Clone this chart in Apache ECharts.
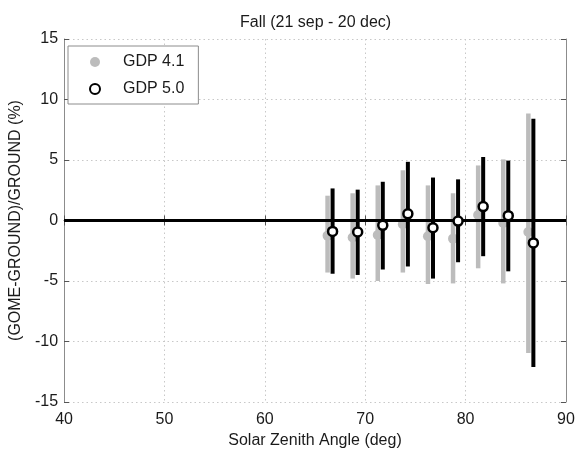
<!DOCTYPE html>
<html>
<head>
<meta charset="utf-8">
<script src="https://cdn.jsdelivr.net/npm/echarts@6/dist/echarts.min.js"></script>
<style>
  html, body { margin: 0; padding: 0; background: #fff; }
  #chart { width: 579px; height: 457px; }
</style>
</head>
<body>
<div id="chart"></div>
<script>
// solar zenith angle bins (deg); the two versions are drawn side by side
const xGdp41 = [66.25, 68.75, 71.25, 73.75, 76.25, 78.75, 81.25, 83.75, 86.25];
const xGdp50 = [66.75, 69.25, 71.75, 74.25, 76.75, 79.25, 81.75, 84.25, 86.75];

// GDP 4.1 (grey)
const mean41 = [-1.25, -1.4, -1.2, -0.3, -1.3, -1.5, 0.45, -0.2, -0.95];
const upper41 = [2.05, 2.25, 2.9, 4.15, 2.9, 2.25, 4.55, 5.05, 8.85];
const lower41 = [-4.3, -4.8, -5.0, -4.3, -5.25, -5.2, -3.95, -5.2, -10.95];

// GDP 5.0 (black)
const mean50 = [-0.9, -0.95, -0.4, 0.55, -0.6, -0.05, 1.15, 0.4, -1.85];
const upper50 = [2.65, 2.55, 3.2, 4.85, 3.55, 3.4, 5.25, 4.95, 8.4];
const lower50 = [-4.4, -4.5, -4.05, -3.8, -4.8, -3.45, -2.95, -4.2, -12.1];

const xTicks = [40, 50, 60, 70, 80, 90];
const yTicks = [-15, -10, -5, 0, 5, 10, 15];

const FONT = '"Liberation Sans", Arial, sans-serif';
const TEXT = '#1a1a1a';
const FRAME = '#8c8c8c';
const GREY = '#bcbcbc';

const chart = echarts.init(document.getElementById('chart'));

function errorBars(xs, lo, hi) {
  return xs.map((x, i) => [x, lo[i], hi[i]]);
}
function points(xs, ys) {
  return xs.map((x, i) => [x, ys[i]]);
}
function barRenderer(color, width) {
  return (params, api) => {
    const x = api.value(0);
    const p1 = api.coord([x, api.value(1)]);
    const p2 = api.coord([x, api.value(2)]);
    return {
      type: 'line',
      shape: { x1: p1[0], y1: p1[1], x2: p2[0], y2: p2[1] },
      style: { stroke: color, lineWidth: width }
    };
  };
}

const hiddenAxis = {
  axisLabel: { show: false },
  splitLine: { show: false },
  axisLine: { show: true, lineStyle: { color: FRAME, width: 1 } },
  axisTick: { show: true, inside: true, length: 5, lineStyle: { color: '#555' } }
};

chart.setOption({
  animation: false,
  backgroundColor: '#fff',
  title: {
    text: 'Fall (21 sep - 20 dec)',
    left: 235,
    top: 10,
    textStyle: { fontFamily: FONT, fontSize: 16, fontWeight: 'normal', color: TEXT }
  },
  legend: {
    data: ['GDP 4.1', 'GDP 5.0'],
    orient: 'vertical',
    left: 68,
    top: 46,
    icon: 'circle',
    itemWidth: 10,
    itemHeight: 10,
    itemGap: 11,
    padding: [8, 14, 7, 21],
    borderColor: FRAME,
    borderWidth: 1,
    backgroundColor: '#fff',
    textStyle: { fontFamily: FONT, fontSize: 16, color: TEXT, lineHeight: 16, padding: [0, 0, 0, 18] }
  },
  grid: { left: 61, right: 13, top: 39, bottom: 55 },
  xAxis: [
    {
      type: 'value',
      min: xTicks[0],
      max: xTicks[xTicks.length - 1],
      interval: 10,
      name: 'Solar Zenith Angle (deg)',
      nameLocation: 'middle',
      nameGap: 31,
      nameTextStyle: { fontFamily: FONT, fontSize: 16, color: TEXT },
      axisLabel: { fontFamily: FONT, fontSize: 16, color: TEXT, margin: 10 },
      axisLine: { show: true, lineStyle: { color: FRAME, width: 1 } },
      axisTick: { show: true, inside: true, length: 5, lineStyle: { color: '#555' } },
      splitLine: { show: true, lineStyle: { color: '#c8c8c8', type: [1.5, 3], width: 1 } }
    },
    Object.assign({ type: 'value', position: 'top', min: 40, max: 90, interval: 10 }, hiddenAxis)
  ],
  yAxis: [
    {
      type: 'value',
      min: yTicks[0],
      max: yTicks[yTicks.length - 1],
      interval: 5,
      name: '(GOME-GROUND)/GROUND (%)',
      nameLocation: 'middle',
      nameGap: 33,
      nameTextStyle: { fontFamily: FONT, fontSize: 16, color: TEXT },
      axisLabel: { fontFamily: FONT, fontSize: 16, color: TEXT, margin: 6 },
      axisLine: { show: true, lineStyle: { color: FRAME, width: 1 } },
      axisTick: { show: true, inside: true, length: 5, lineStyle: { color: '#555' } },
      splitLine: { show: true, lineStyle: { color: '#c8c8c8', type: [1.5, 3], width: 1 } }
    },
    Object.assign({ type: 'value', position: 'right', min: -15, max: 15, interval: 5 }, hiddenAxis)
  ],
  series: [
    {
      name: 'GDP 4.1 range',
      type: 'custom',
      z: 2,
      silent: true,
      renderItem: barRenderer(GREY, 4.5),
      encode: { x: 0, y: [1, 2] },
      data: errorBars(xGdp41, lower41, upper41)
    },
    {
      name: 'GDP 4.1',
      type: 'scatter',
      z: 3,
      symbol: 'circle',
      symbolSize: 10,
      itemStyle: { color: GREY, opacity: 1 },
      data: points(xGdp41, mean41),
      markLine: {
        silent: true,
        symbol: 'none',
        label: { show: false },
        lineStyle: { color: '#000', width: 3, type: 'solid' },
        data: [{ yAxis: 0 }]
      }
    },
    {
      name: 'GDP 5.0 range',
      type: 'custom',
      z: 5,
      silent: true,
      renderItem: barRenderer('#000', 4),
      encode: { x: 0, y: [1, 2] },
      data: errorBars(xGdp50, lower50, upper50)
    },
    {
      name: 'GDP 5.0',
      type: 'scatter',
      z: 6,
      symbol: 'circle',
      symbolSize: 9,
      itemStyle: { color: '#fff', borderColor: '#000', borderWidth: 2.5, opacity: 1 },
      data: points(xGdp50, mean50)
    }
  ]
});
</script>
</body>
</html>
